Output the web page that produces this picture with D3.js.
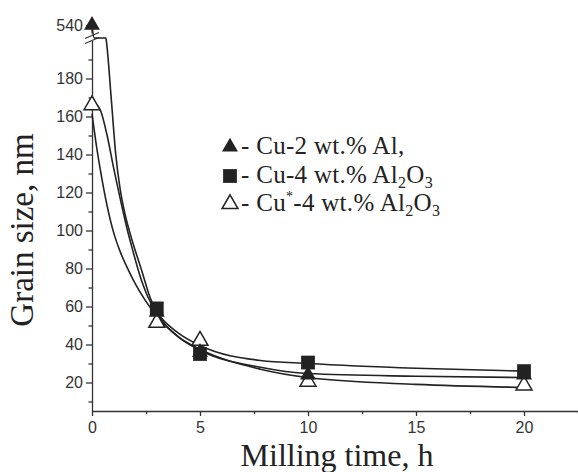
<!DOCTYPE html>
<html>
<head>
<meta charset="utf-8">
<script src="https://cdn.jsdelivr.net/npm/d3@7"></script>
<style>
  body { margin: 0; background: #fff; }
  svg { display: block; }
  .tick text { font-family: "Liberation Sans", Arial, sans-serif; font-size: 16px; fill: #333; }
  .title { font-family: "Liberation Serif", "Times New Roman", serif; fill: #222; }
</style>
</head>
<body>
<svg width="578" height="472"></svg>
<script>
// measured points, milling time (h) -> grain size (nm)
const timeAl = [0, 3, 5, 10, 20];
const sizeAl = [540, 57, 36, 24, 24];
const timeOx = [3, 5, 10, 20];
const sizeOx = [59, 35, 30.5, 26];
const timeOxStar = [0, 3, 5, 10, 20];
const sizeOxStar = [166, 51.5, 42, 20.5, 18.5];

// fitted curves
const fitAlT = [0, 0.1, 0.64, 0.66, 0.88, 1.1, 1.3, 1.5, 1.8, 2.3, 2.68, 3, 4, 5, 7.8, 10, 15, 20];
const fitAlV = [540, 520, 520, 200, 171, 140, 122, 110, 97, 79, 65, 57, 44, 37, 28, 24.7, 23.3, 22.6];
const fitOxT = [0.14, 0.4, 0.7, 1.0, 1.3, 1.6, 1.9, 2.2, 2.59, 3, 4, 5, 7.8, 10, 15, 20];
const fitOxV = [167, 163, 150, 133, 117, 102, 89, 77, 65, 57, 46, 39.5, 31.6, 30, 27.5, 26];
const fitStarT = [0, 0.2, 0.4, 0.7, 1.0, 1.3, 1.67, 2.0, 2.45, 3, 4, 5, 7.8, 10, 15, 20];
const fitStarV = [161.5, 145, 131, 113, 99, 89, 79.5, 72, 63.5, 55, 44, 37.5, 27, 22.6, 19, 17.4];

const xTicks = [0, 5, 10, 15, 20];
const yTicksLow = [20, 40, 60, 80, 100, 120, 140, 160, 180];
const yTicksHigh = [540];

const svg = d3.select("svg");
const ink = "#222";

const x = d3.scaleLinear().domain([0, 22.5]).range([92, 578]);
const yLow = d3.scaleLinear().domain([5, 200]).range([411, 40.5]);
const yHigh = d3.scaleLinear().domain([520, 545]).range([38, 22]);
const y = v => v > 300 ? yHigh(v) : yLow(v);

// x axis
svg.append("g")
    .attr("transform", "translate(0," + yLow(5) + ")")
    .call(d3.axisBottom(x).tickValues(xTicks).tickSize(5).tickPadding(6).tickSizeOuter(0));
svg.append("g")
    .attr("transform", "translate(0," + yLow(5) + ")")
    .call(d3.axisBottom(x).tickValues(d3.range(2.5, 23, 5)).tickSize(3).tickFormat("").tickSizeOuter(0))
    .select(".domain").remove();

// y axis, lower part
svg.append("g")
    .attr("transform", "translate(92,0)")
    .call(d3.axisLeft(yLow).tickValues(yTicksLow).tickSize(6).tickPadding(3).tickSizeOuter(0));
svg.append("g")
    .attr("transform", "translate(92,0)")
    .call(d3.axisLeft(yLow).tickValues(d3.range(10, 200, 20)).tickSize(3.5).tickFormat("").tickSizeOuter(0))
    .select(".domain").remove();

// y axis, upper part above the break
svg.append("g")
    .attr("transform", "translate(92,0)")
    .call(d3.axisLeft(yHigh).tickValues(yTicksHigh).tickSize(6).tickPadding(3).tickSizeOuter(0))
    .select(".domain").attr("d", "M0," + yHigh(545) + "V" + (yLow(200) - 7));

svg.selectAll(".domain, .tick line").attr("stroke", "#333").attr("stroke-width", 1.3);

// break marks
[0, 5].forEach(o => {
    svg.append("line")
        .attr("x1", 85).attr("y1", yLow(200) - 2 + o)
        .attr("x2", 99).attr("y2", yLow(200) - 8 + o)
        .attr("stroke", "#333").attr("stroke-width", 1.3);
});

// fitted curves
const line = d3.line().curve(d3.curveMonotoneX).x(d => x(d[0])).y(d => y(d[1]));
[[fitAlT, fitAlV], [fitOxT, fitOxV], [fitStarT, fitStarV]].forEach(([t, v]) => {
    svg.append("path")
        .datum(t.map((d, i) => [d, v[i]]))
        .attr("fill", "none")
        .attr("stroke", ink)
        .attr("stroke-width", 1.6)
        .attr("d", line);
});

// markers
const triUp = d3.symbol().type(d3.symbolTriangle).size(110);
const sq = d3.symbol().type(d3.symbolSquare).size(190);

const pts = (t, v) => t.map((d, i) => [d, v[i]]);

svg.append("g").selectAll("path")
    .data(pts(timeOxStar, sizeOxStar))
    .join("path")
    .attr("d", triUp)
    .attr("transform", d => "translate(" + x(d[0]) + "," + y(d[1]) + ")")
    .attr("fill", "#fff").attr("stroke", ink).attr("stroke-width", 1.5);

svg.append("g").selectAll("path")
    .data(pts(timeAl, sizeAl))
    .join("path")
    .attr("d", triUp)
    .attr("transform", d => "translate(" + x(d[0]) + "," + y(d[1]) + ")")
    .attr("fill", ink);

svg.append("g").selectAll("path")
    .data(pts(timeOx, sizeOx))
    .join("path")
    .attr("d", sq)
    .attr("transform", d => "translate(" + x(d[0]) + "," + y(d[1]) + ")")
    .attr("fill", ink);

// legend
const legend = svg.append("g").attr("class", "title")
    .attr("font-size", 25).attr("letter-spacing", 0.3);
const rows = [
    { sym: triUp, fill: ink, yy: 154 },
    { sym: sq, fill: ink, yy: 183 },
    { sym: triUp, fill: "#fff", yy: 211 }
];
rows.forEach(r => {
    legend.append("path")
        .attr("d", r.sym)
        .attr("transform", "translate(230," + (r.yy - 7) + ")")
        .attr("fill", r.fill)
        .attr("stroke", ink).attr("stroke-width", r.fill === "#fff" ? 1.5 : 0);
});
const t1 = legend.append("text").attr("x", 241).attr("y", 154);
t1.append("tspan").text("- Cu-2 wt.% Al,");

const t2 = legend.append("text").attr("x", 241).attr("y", 183);
t2.append("tspan").text("- Cu-4 wt.% Al");
t2.append("tspan").attr("font-size", 16).attr("dy", 5).text("2");
t2.append("tspan").attr("dy", -5).text("O");
t2.append("tspan").attr("font-size", 16).attr("dy", 5).text("3");

const t3 = legend.append("text").attr("x", 241).attr("y", 211);
t3.append("tspan").text("- Cu");
t3.append("tspan").attr("font-size", 14).attr("dy", -10).text("*");
t3.append("tspan").attr("dy", 10).text("-4 wt.% Al");
t3.append("tspan").attr("font-size", 16).attr("dy", 5).text("2");
t3.append("tspan").attr("dy", -5).text("O");
t3.append("tspan").attr("font-size", 16).attr("dy", 5).text("3");

// axis titles
svg.append("text")
    .attr("class", "title")
    .attr("font-size", 33)
    .attr("text-anchor", "middle")
    .attr("transform", "translate(33,230) rotate(-90)")
    .text("Grain size, nm");

svg.append("text")
    .attr("class", "title")
    .attr("font-size", 32)
    .attr("text-anchor", "middle")
    .attr("x", 337).attr("y", 466)
    .text("Milling time, h");
</script>
</body>
</html>
